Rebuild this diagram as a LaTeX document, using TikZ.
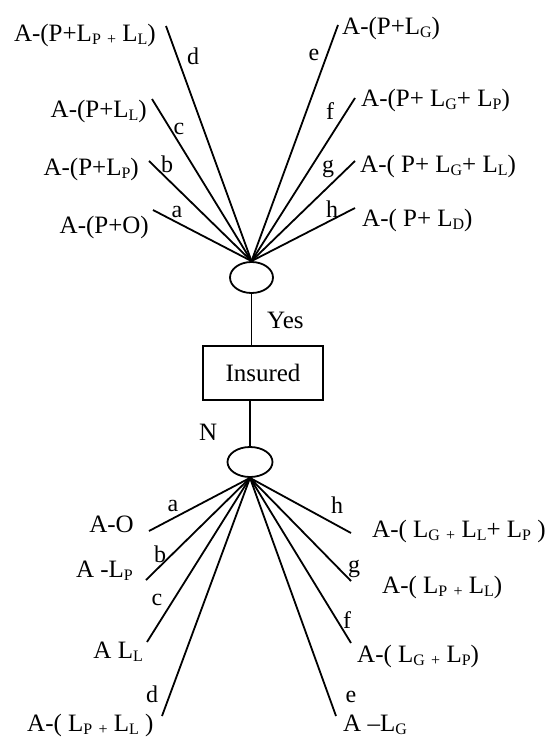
\documentclass[tikz,border=0pt]{standalone}
\usepackage{fontspec}
\setmainfont{Liberation Serif}
\usetikzlibrary{shapes.geometric}
\newcommand\sbs[1]{\raisebox{-0.14em}{\fontsize{16}{16}\selectfont #1}}
\begin{document}
\begin{tikzpicture}[x=1pt,y=-1pt,
  ln/.style={line width=1.8pt},
  txt/.style={inner sep=0pt,font=\fontsize{25}{29}\selectfont},
  lbl/.style={inner sep=0pt,anchor=base,font=\fontsize{24}{28}\selectfont},
  oval/.style={draw,ellipse,line width=1.8pt,minimum width=43pt,minimum height=31pt,inner sep=0pt},
  boxn/.style={draw,line width=1.8pt,minimum width=120pt,minimum height=54pt,inner sep=0pt,font=\fontsize{25}{29}\selectfont}]
\useasboundingbox (0,0) rectangle (549,739);
\fill[white] (0,0) rectangle (549,739);
% central nodes
\node[oval] (up) at (251.5,277.5) {};
\node[boxn] (ins) at (263,373) {\raisebox{-2pt}{Insured}};
\node[oval,minimum width=45pt,minimum height=30pt] (lo) at (250,462) {};
\draw[ln] (up.south) -- (up.south |- ins.north);
\draw[ln] (lo.north) -- (lo.north |- ins.south);
\node[txt,anchor=base west] (yes) at (267,328) {Yes};
\node[txt,anchor=base west] (no) at (199,440) {N};
% upper fan ends
\coordinate (ua) at (153,210);
\coordinate (ub) at (149,161);
\coordinate (uc) at (152,99);
\coordinate (ud) at (166,26);
\coordinate (ue) at (338,25);
\coordinate (uf) at (355,98);
\coordinate (ug) at (355,161);
\coordinate (uh) at (355,208);
\foreach \p in {ua,ub,uc,ud,ue,uf,ug,uh} \draw[ln] (up.north) -- (\p);
% lower fan ends
\coordinate (la) at (149,531);
\coordinate (lb) at (146,580);
\coordinate (lc) at (147,642);
\coordinate (ld) at (162,716);
\coordinate (le) at (336,716);
\coordinate (lf) at (351,643);
\coordinate (lg) at (351,581);
\coordinate (lh) at (351,533);
\foreach \p in {la,lb,lc,ld,le,lf,lg,lh} \draw[ln] (lo.south) -- (\p);
% upper labels
\node[lbl] (tua) at (177,217) {a};
\node[lbl] (tub) at (167,172) {b};
\node[lbl] (tuc) at (179,134) {c};
\node[lbl] (tud) at (193,64) {d};
\node[lbl] (tue) at (314,60) {e};
\node[lbl] (tuf) at (330,119) {f};
\node[lbl] (tug) at (328,172) {g};
\node[lbl] (tuh) at (332,217) {h};
% upper texts
\node[txt,anchor=base east] (xa) at (149,233) {A-(P+O)};
\node[txt,anchor=base east] (xb) at (139,175) {A-(P+L\sbs{P})};
\node[txt,anchor=base east] (xc) at (147,117) {A-(P+L\sbs{L})};
\node[txt,anchor=base east] (xd) at (156,41) {A-(P+L\sbs{P} \sbs{+} L\sbs{L})};
\node[txt,anchor=base west] (xe) at (342,34) {A-(P+L\sbs{G})};
\node[txt,anchor=base west] (xf) at (361,106) {A-(P+ L\sbs{G}+ L\sbs{P})};
\node[txt,anchor=base west] (xg) at (360,172) {A-( P+ L\sbs{G}+ L\sbs{L})};
\node[txt,anchor=base west] (xh) at (362,226) {A-( P+ L\sbs{D})};
% lower labels
\node[lbl] (tla) at (173,511) {a};
\node[lbl] (tlb) at (160,562) {b};
\node[lbl] (tlc) at (157,605) {c};
\node[lbl] (tld) at (152,702) {d};
\node[lbl] (tle) at (351,702) {e};
\node[lbl] (tlf) at (347,628) {f};
\node[lbl] (tlg) at (354,572) {g};
\node[lbl] (tlh) at (337,513) {h};
% lower texts
\node[txt,anchor=base east] (ya) at (134,532) {A-O};
\node[txt,anchor=base east] (yb) at (133,577) {A -L\sbs{P}};
\node[txt,anchor=base east] (yc) at (143,658) {A L\sbs{L}};
\node[txt,anchor=base west] (yd) at (27,731) {A-( L\sbs{P} \sbs{+} L\sbs{L} )};
\node[txt,anchor=base west] (ye) at (343,731) {A –L\sbs{G}};
\node[txt,anchor=base west] (yf) at (357,662) {A-( L\sbs{G} \sbs{+} L\sbs{P})};
\node[txt,anchor=base west] (yg) at (382,593) {A-( L\sbs{P} \sbs{+} L\sbs{L})};
\node[txt,anchor=base west] (yh) at (372,537) {A-( L\sbs{G} \sbs{+} L\sbs{L}+ L\sbs{P} )};
\end{tikzpicture}
\end{document}
